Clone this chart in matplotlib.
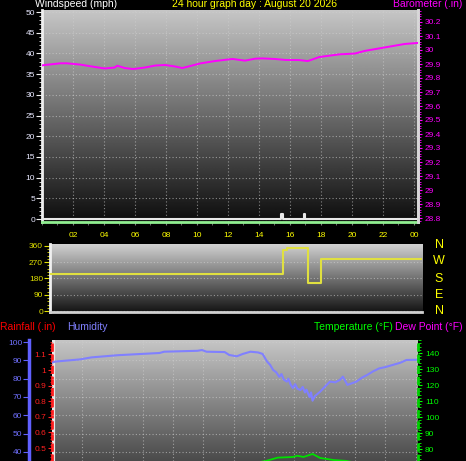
import matplotlib
matplotlib.use('Agg')
import matplotlib.pyplot as plt
from matplotlib.ticker import MultipleLocator, FixedLocator
import numpy as np

plt.rcParams['font.family'] = ['Liberation Sans', 'DejaVu Sans']

# ---- data (hours since midnight) ----
baro_hours = [0.0, 0.2, 1.2, 1.6, 2.45, 3.4, 4.05, 4.7, 4.85, 5.35, 5.9, 6.65,
              7.3, 7.95, 8.6, 9.05, 9.55, 10.2, 11.15, 12.3, 13.1, 13.75, 14.2,
              15.0, 15.7, 16.6, 17.15, 17.9, 19.2, 20.2, 20.8, 22.1, 23.4, 24.2]
baro = [29.89, 29.893, 29.905, 29.905, 29.896, 29.879, 29.868, 29.875, 29.888,
        29.871, 29.864, 29.875, 29.889, 29.893, 29.882, 29.871, 29.885, 29.904,
        29.921, 29.936, 29.924, 29.938, 29.94, 29.936, 29.929, 29.928, 29.921,
        29.95, 29.969, 29.975, 29.993, 30.018, 30.043, 30.05]

wind_hours = [0.0, 15.45, 15.45, 15.55, 15.55, 16.88, 16.88, 16.98, 16.98, 24.2]
wind_mph = [0, 0, 1.1, 1.1, 0, 0, 1.1, 1.1, 0, 0]

dir_hours = [0.0, 15.03, 15.3, 16.65, 17.48, 24.0]
dir_deg = [203, 338, 348, 157, 288, 288]

hum_hours = [0.0, 0.2, 1.85, 2.6, 4.35, 7.1, 7.4, 9.6, 9.9, 10.2, 11.4, 11.7,
             12.2, 12.6, 13.1, 13.6, 13.9, 14.2, 14.4, 14.6, 14.8, 15.0, 15.15,
             15.3, 15.5, 15.6, 15.75, 15.9, 16.05, 16.2, 16.4, 16.55, 16.7, 16.8,
             16.9, 17.0, 17.1, 17.2, 17.35, 17.5, 17.7, 18.0, 18.35, 18.7, 19.0,
             19.2, 19.5, 19.8, 20.1, 20.45, 20.8, 21.2, 21.6, 22.0, 22.5, 23.0,
             23.4, 24.15]
humidity = [88.7, 89.3, 90.5, 91.6, 92.8, 94.0, 94.7, 95.2, 95.6, 94.7, 94.5, 92.9,
            92.2, 93.5, 94.7, 94.3, 93.5, 89.3, 87.5, 84.7, 83.5, 81.0, 82.5,
            79.5, 78.4, 80.0, 76.8, 74.9, 77.0, 74.5, 73.8, 75.5, 72.5, 74.0,
            72.0, 70.0, 72.5, 68.0, 70.5, 71.5, 72.9, 75.5, 78.4, 78.0, 79.3,
            81.1, 76.6, 77.5, 78.4, 80.5, 82.0, 84.0, 85.6, 86.3, 87.5, 88.7,
            90.2, 90.3]

temp_hours = [0, 4, 8, 12, 13.5, 14.1, 14.9, 15.9, 16.2, 16.6, 17.2, 17.7,
              18.6, 19.4, 20, 22, 24]
temp_f = [66, 64.5, 66, 70, 71.5, 72.5, 74.6, 75.0, 75.8, 75.0, 76.9, 74.4,
          73.1, 72.6, 71.5, 69, 67.5]

dew_hours = [0, 6, 12, 18, 24]
dew_f = [63, 62, 66, 65, 64]

rain_hours = [0, 24]
rain_in = [0, 0]

hour_ticks = [2, 4, 6, 8, 10, 12, 14, 16, 18, 20, 22, 24]
hour_labels = ['02', '04', '06', '08', '10', '12', '14', '16', '18', '20', '22', '00']

W, H = 466, 461
fig = plt.figure(figsize=(W / 100, H / 100), dpi=100, facecolor='black')


def px_axes(l, t, r, b):
    return fig.add_axes([l / W, 1 - b / H, (r - l) / W, (b - t) / H])


def gradient(ax, top, bottom):
    g = np.linspace(top, bottom, 256).reshape(-1, 1)
    ax.imshow(g, cmap='gray', vmin=0, vmax=1, aspect='auto', extent=[0, 1, 0, 1],
              transform=ax.transAxes, zorder=0, interpolation='bilinear')


GRID = dict(color='#d0d0d0', linestyle=(0, (1, 2)), linewidth=0.8, alpha=0.6)

# ---------------- top panel: windspeed + barometer ----------------
ax1 = px_axes(42, 10, 418, 222)
ax1.set_facecolor('black')
gradient(ax1, 0.78, 0.05)
ax1.plot(wind_hours, wind_mph, color='#e8e8e8', lw=1.5, zorder=3)
ax1.set_xlim(0, 24.26)
ax1.set_ylim(-0.72, 50.5)
ax1.xaxis.set_major_locator(FixedLocator(hour_ticks))
ax1.set_xticklabels(hour_labels)
ax1.xaxis.set_minor_locator(MultipleLocator(1))
ax1.yaxis.set_major_locator(MultipleLocator(5))
ax1.yaxis.set_minor_locator(MultipleLocator(1))
ax1.tick_params(axis='x', which='both', colors='#808080', labelcolor='#ffff00',
                labelsize=6, length=2, pad=5)
ax1.tick_params(axis='y', which='major', colors='#f0f0f0', labelcolor='#e8e8ff',
                labelsize=6, length=4, pad=1)
ax1.tick_params(axis='y', which='minor', colors='#f0f0f0', length=2)
ax1.grid(True, which='major', **GRID)
ax1.spines['top'].set_visible(False)
ax1.spines['left'].set_color('#f0f0f0')
ax1.spines['left'].set_linewidth(2)
ax1.spines['bottom'].set_color('#90ee90')
ax1.spines['bottom'].set_linewidth(2)
ax1.spines['right'].set_color('#d8d8d8')
ax1.spines['right'].set_linewidth(2)

ax1b = ax1.twinx()
ax1b.plot(baro_hours, baro, color='#ff00ff', lw=1.4, zorder=3)
ax1b.set_ylim(28.8 - 4 / 140, 30.2 + 12 / 140)
ax1b.yaxis.set_major_locator(MultipleLocator(0.1))
ax1b.yaxis.set_minor_locator(MultipleLocator(0.02))
ax1b.yaxis.set_major_formatter(plt.FuncFormatter(lambda v, p: f'{v:.1f}'.rstrip('0').rstrip('.')))
ax1b.tick_params(axis='y', which='major', colors='#ff00ff', labelsize=6, length=3, pad=2)
ax1b.tick_params(axis='y', which='minor', colors='#ff00ff', length=2)
for s in ['top', 'left', 'bottom']:
    ax1b.spines[s].set_visible(False)
ax1b.spines['right'].set_color('#d8d8d8')
ax1b.spines['right'].set_linewidth(2)

fig.text(35 / W, 1 - 4 / H, 'Windspeed (mph)', color='white', fontsize=7.5, va='center')
fig.text(172 / W, 1 - 4 / H, '24 hour graph day : August 20 2026', color='#ffff00',
         fontsize=7.5, va='center')
fig.text(462 / W, 1 - 4 / H, 'Barometer (.in)', color='#ff00ff', fontsize=7.5,
         va='center', ha='right')

# ---------------- middle panel: wind direction ----------------
ax2 = px_axes(50, 244, 422, 312)
gradient(ax2, 0.82, 0.08)
ax2.plot(dir_hours, dir_deg, color='#e0e040', lw=1.5, drawstyle='steps-post', zorder=3)
ax2.set_xlim(0, 24)
ax2.set_ylim(-5, 370)
ax2.yaxis.set_major_locator(FixedLocator([0, 90, 180, 270, 360]))
ax2.yaxis.set_minor_locator(MultipleLocator(18))
ax2.tick_params(axis='y', which='major', colors='#e0e000', labelcolor='#e0e000',
                labelsize=6, length=4, pad=1)
ax2.tick_params(axis='y', which='minor', colors='#e0e000', length=2)
ax2.tick_params(axis='x', bottom=False, labelbottom=False)
ax2.grid(True, axis='y', **GRID)
for s in ['top', 'right']:
    ax2.spines[s].set_visible(False)
ax2.spines['left'].set_color('#f0f0f0')
ax2.spines['left'].set_linewidth(2)
ax2.spines['bottom'].set_color('#d0d0d0')
ax2.spines['bottom'].set_linewidth(2)

for letter, y in zip(['N', 'W', 'S', 'E', 'N'], [245, 261, 279, 295, 311]):
    fig.text(439 / W, 1 - y / H, letter, color='#ffff00', fontsize=9,
             ha='center', va='center')

# ---------------- bottom panel: rain, humidity, temperature ----------------
ax3 = px_axes(52, 340, 418, 461)
gradient(ax3, 0.78, 0.29)
ax3.plot(rain_hours, rain_in, color='#ff0000', lw=1.2)
ax3.set_xlim(0, 24.16)
ax3.set_ylim(0.5 - 13 / 156, 0.5 + 108 / 156)
ax3.xaxis.set_major_locator(FixedLocator(hour_ticks))
ax3.tick_params(axis='x', bottom=False, labelbottom=False)
ax3.yaxis.set_major_locator(FixedLocator([0.5, 0.6, 0.7, 0.8, 0.9, 1.0, 1.1]))
ax3.yaxis.set_minor_locator(MultipleLocator(0.02))
ax3.yaxis.set_major_formatter(plt.FuncFormatter(lambda v, p: f'{v:.1f}'.rstrip('0').rstrip('.')))
ax3.tick_params(axis='y', which='major', colors='#ff2020', labelsize=6, length=3, pad=1)
ax3.tick_params(axis='y', which='minor', colors='#ff2020', length=1.5)
ax3.grid(True, axis='x', **GRID)
ax3.axvline(0.05, color='#e8e8e8', lw=3, zorder=1)
for s in ['top', 'right', 'bottom']:
    ax3.spines[s].set_visible(False)
ax3.spines['left'].set_color('#ff2020')
ax3.spines['left'].set_linewidth(2)
ax3.spines['left'].set_linestyle((0, (2, 2)))

ax3h = ax3.twinx()
ax3h.plot(hum_hours, humidity, color='#8080ff', lw=1.5, zorder=3)
ax3h.set_ylim(100 - 121 / 1.833 + 2 / 1.833, 100 + 2 / 1.833)
ax3h.yaxis.set_major_locator(MultipleLocator(10))
ax3h.yaxis.tick_left()
ax3h.spines['left'].set_position(('outward', 16.5))
ax3h.tick_params(axis='y', colors='#6060ff', labelcolor='#7070ff', labelsize=6,
                 length=4, pad=1)
ax3h.grid(True, axis='y', **GRID)
for s in ['top', 'right', 'bottom']:
    ax3h.spines[s].set_visible(False)
ax3h.spines['left'].set_color('#6060ff')
ax3h.spines['left'].set_linewidth(2.5)

ax3t = ax3.twinx()
ax3t.plot(dew_hours, dew_f, color='#ff00ff', lw=1.2, zorder=3)
ax3t.plot(temp_hours, temp_f, color='#00e000', lw=1.3, zorder=4)
ax3t.set_ylim(140 - 108 / 1.6, 140 + 13 / 1.6)
ax3t.yaxis.set_major_locator(MultipleLocator(10))
ax3t.yaxis.set_minor_locator(MultipleLocator(2))
ax3t.tick_params(axis='y', which='major', colors='#00ff00', labelsize=6, length=3, pad=2)
ax3t.tick_params(axis='y', which='minor', colors='#00ff00', length=2)
for s in ['top', 'left', 'bottom']:
    ax3t.spines[s].set_visible(False)
ax3t.spines['right'].set_color('#00d000')
ax3t.spines['right'].set_linewidth(2)
ax3t.spines['right'].set_linestyle((0, (2, 2)))

fig.text(0 / W, 1 - 327 / H, 'Rainfall (.in)', color='#ff0000', fontsize=7.5, va='center')
fig.text(67 / W, 1 - 327 / H, 'Humidity', color='#8080ff', fontsize=7.5, va='center')
fig.text(393 / W, 1 - 327 / H, 'Temperature (°F)', color='#00ff00', fontsize=7.5,
         va='center', ha='right')
fig.text(463 / W, 1 - 327 / H, 'Dew Point (°F)', color='#ff00ff', fontsize=7.5,
         va='center', ha='right')

fig.savefig('out.png', dpi=100, facecolor='black')
